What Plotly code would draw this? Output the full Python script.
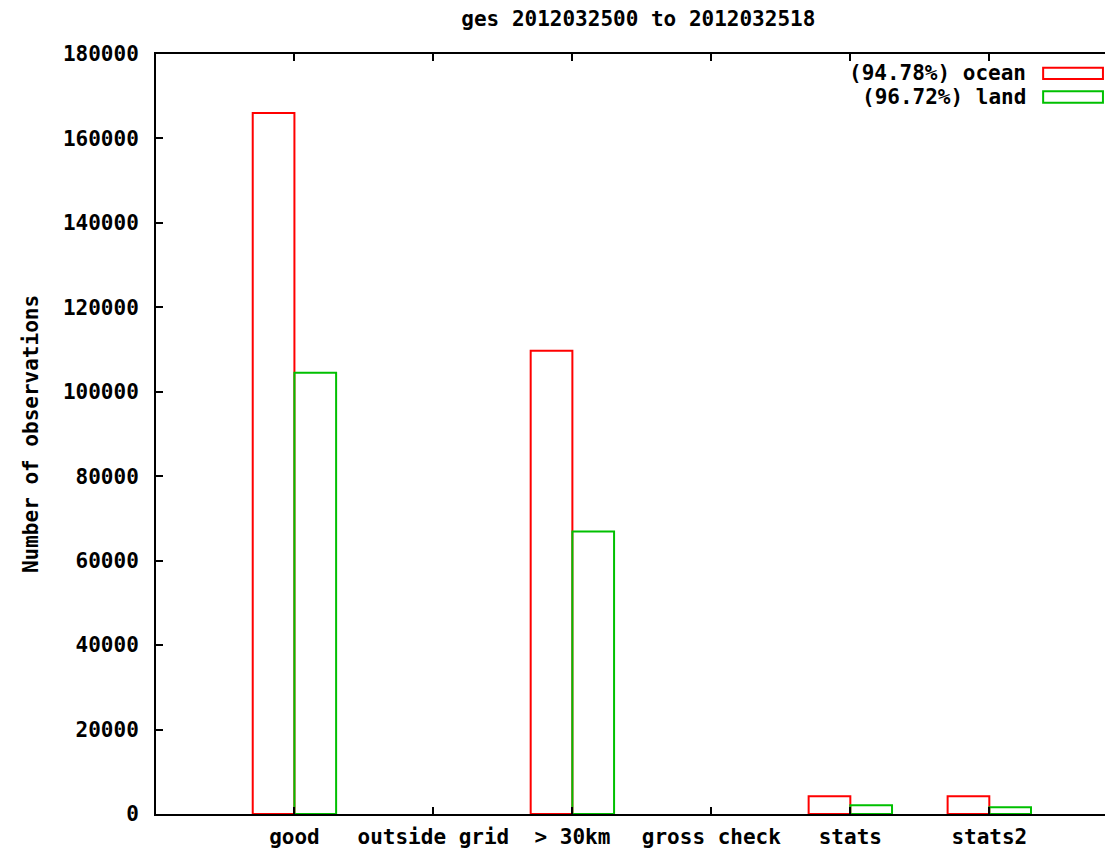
import plotly.graph_objects as go

categories = ["good", "outside grid", "> 30km", "gross check", "stats", "stats2"]
ocean = [166000, 0, 109700, 0, 4200, 4200]
land = [104500, 0, 66900, 0, 2100, 1600]
series_names = ["(94.78%) ocean", "(96.72%) land"]
series_colors = ["#ff0000", "#00c000"]
y_ticks = [0, 20000, 40000, 60000, 80000, 100000, 120000, 140000, 160000, 180000]
title_text = "ges 2012032500 to 2012032518"
y_title = "Number of observations"

FONT = "DejaVu Sans Mono"
FS = 21
x_pos = list(range(len(categories)))

fig = go.Figure()
for vals, name, col in zip([ocean, land], series_names, series_colors):
    fig.add_trace(go.Bar(
        x=x_pos, y=[v if v else None for v in vals], name=name,
        marker=dict(color="rgba(255,255,255,0)", line=dict(color=col, width=2)),
        showlegend=False,
    ))

# manual legend (text left of sample box, gnuplot style)
ys = [0.9745, 0.9435]
for name, col, yc in zip(series_names, series_colors, ys):
    fig.add_annotation(xref="paper", yref="paper", x=0.911, y=yc, text=name,
                       showarrow=False, xanchor="right", yanchor="middle",
                       font=dict(family=FONT, size=FS, color="black", weight="bold"))
    fig.add_shape(type="rect", xref="paper", yref="paper",
                  x0=0.927, x1=0.9895, y0=yc - 0.0075, y1=yc + 0.0075,
                  line=dict(color=col, width=2), fillcolor="rgba(0,0,0,0)")

fig.update_layout(
    width=1105, height=842,
    margin=dict(l=148, r=0, t=46, b=36, autoexpand=False),
    paper_bgcolor="white", plot_bgcolor="white",
    barmode="group", bargap=0.4, bargroupgap=0,
    font=dict(family=FONT, size=FS, color="black", weight="bold"),
    title=dict(text=title_text, xref="paper", x=0.504, xanchor="center",
               yref="container", y=0.987, yanchor="middle",
               font=dict(family=FONT, size=FS, color="black", weight="bold")),
    xaxis=dict(
        range=[-0.996, 5.89], tickvals=x_pos, ticktext=categories,
        showgrid=False, zeroline=False, showline=True, linecolor="black", linewidth=2,
        mirror="ticks", ticks="inside", ticklen=7, tickwidth=1.5, tickcolor="black",
        ticklabelstandoff=3, automargin=False,
        tickfont=dict(family=FONT, size=FS, color="black", weight="bold"),
    ),
    yaxis=dict(
        range=[0, 180000], tickvals=y_ticks, ticktext=[str(v) for v in y_ticks],
        showgrid=False, zeroline=False, showline=True, linecolor="black", linewidth=2,
        ticks="inside", ticklen=7, tickwidth=1.5, tickcolor="black",
        ticklabelstandoff=11, automargin=False,
        tickfont=dict(family=FONT, size=FS, color="black", weight="bold"),
        title=dict(text=y_title, standoff=19,
                   font=dict(family=FONT, size=FS, color="black", weight="bold")),
    ),
)

fig.write_html("out.html")
